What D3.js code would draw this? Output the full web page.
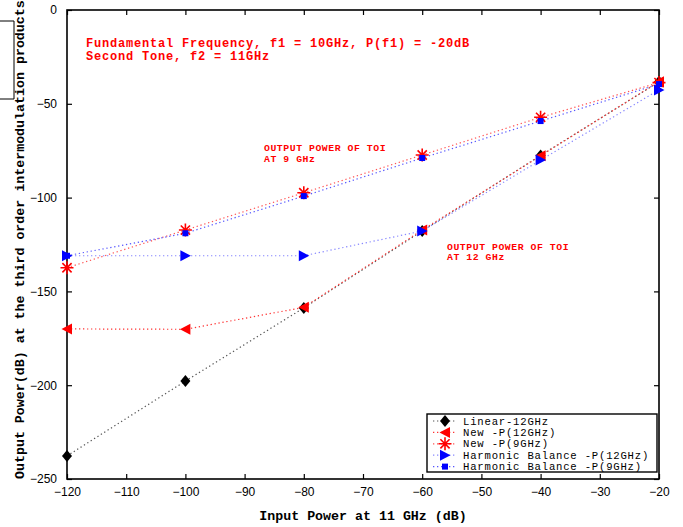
<!DOCTYPE html>
<html><head><meta charset="utf-8">
<script src="https://cdn.jsdelivr.net/npm/d3@7"></script>
<style>body{margin:0;background:#fff}svg{display:block}</style>
</head><body>
<svg id="c" width="683" height="527"></svg>
<script>
const inputPower = [-120, -100, -80, -60, -40, -20];
const linear12 = [-237.7, -197.8, -158.8, -117.8, -77.5, -38.3];
const newP12 = [-170, -170.2, -158.5, -117.3, -77.7, -38.2];
const newP9 = [-137.4, -117.3, -97.4, -77.3, -57.2, -38.7];
const hbP12 = [-131, -131, -131, -117.8, -80, -42.6];
const hbP9 = [-131, -119, -99.2, -78.9, -59.2, -39.5];
const xTicks = [-120, -110, -100, -90, -80, -70, -60, -50, -40, -30, -20];
const yTicks = [-250, -200, -150, -100, -50, 0];
const seriesNames = ["Linear-12GHz", "New -P(12GHz)", "New -P(9GHz)", "Harmonic Balance -P(12GHz)", "Harmonic Balance -P(9GHz)"];
const annotation1 = ["Fundamental Frequency, f1 = 10GHz, P(f1) = -20dB", "Second Tone, f2 = 11GHz"];
const annotation9 = ["OUTPUT POWER OF TOI", "AT 9 GHz"];
const annotation12 = ["OUTPUT POWER OF TOI", "AT 12 GHz"];
const xLabel = "Input Power at 11 GHz (dB)";
const yLabel = "Output Power(dB) at the third order intermodulation products";

const svg = d3.select("#c");
const L = 67, R = 659, T = 10, B = 479;
const x = d3.scaleLinear().domain([-120, -20]).range([L, R]);
const y = d3.scaleLinear().domain([-250, 0]).range([B, T]);
const mono = "'Liberation Mono','Courier New',monospace";
const sans = "'Liberation Sans',Arial,sans-serif";
const fmt = d => d < 0 ? "\u2212" + Math.abs(d) : String(d);

// artifact bracket at top-left
svg.append("path").attr("d", "M0,21H14V99H0").attr("fill", "none").attr("stroke", "#000").attr("stroke-width", 1);

// axes with inward ticks
const gx = svg.append("g").attr("transform", `translate(0,${B})`)
  .call(d3.axisBottom(x).tickValues(xTicks).tickSize(-5).tickPadding(8).tickFormat(fmt));
const gxt = svg.append("g").attr("transform", `translate(0,${T})`)
  .call(d3.axisTop(x).tickValues(xTicks).tickSize(-5).tickFormat(""));
const gy = svg.append("g").attr("transform", `translate(${L},0)`)
  .call(d3.axisLeft(y).tickValues(yTicks).tickSize(-5).tickPadding(10).tickFormat(fmt));
const gyr = svg.append("g").attr("transform", `translate(${R},0)`)
  .call(d3.axisRight(y).tickValues(yTicks).tickSize(-5).tickFormat(""));
[gx, gxt, gy, gyr].forEach(g => {
  g.select(".domain").remove();
  g.selectAll(".tick line").attr("stroke", "#000").attr("stroke-width", 1.2);
  g.selectAll("text").attr("font-family", sans).attr("font-size", 12).attr("fill", "#000");
});
svg.append("rect").attr("x", L).attr("y", T).attr("width", R - L).attr("height", B - T)
  .attr("fill", "none").attr("stroke", "#000").attr("stroke-width", 1.6);

// axis labels
svg.append("text").attr("x", (L + R) / 2).attr("y", 520).attr("text-anchor", "middle")
  .attr("font-family", mono).attr("font-weight", "bold").attr("font-size", 13.3).text(xLabel);
svg.append("text").attr("transform", `translate(24,${B}) rotate(-90)`).attr("text-anchor", "start")
  .attr("font-family", mono).attr("font-weight", "bold").attr("font-size", 13.3).text(yLabel);

// marker shapes
function drawMarker(g, type, color) {
  if (type === "diamond") g.append("path").attr("d", "M0,-6L5,0L0,6L-5,0Z").attr("fill", color);
  else if (type === "left") g.append("path").attr("d", "M-5.5,0L5,-5.5L5,5.5Z").attr("fill", color);
  else if (type === "right") g.append("path").attr("d", "M5.5,0L-5,-5.5L-5,5.5Z").attr("fill", color);
  else if (type === "square") g.append("rect").attr("x", -3).attr("y", -3).attr("width", 6).attr("height", 6).attr("fill", color);
  else if (type === "star") {
    g.append("path").attr("d", "M-6.5,0H6.5M0,-6.5V6.5M-4.6,-4.6L4.6,4.6M-4.6,4.6L4.6,-4.6")
      .attr("stroke", color).attr("stroke-width", 1.6).attr("fill", "none");
  }
}

const series = [
  {name: seriesNames[0], vals: linear12, color: "#000000", line: "#555", marker: "diamond"},
  {name: seriesNames[1], vals: newP12, color: "#ff0000", line: "#f33", marker: "left"},
  {name: seriesNames[2], vals: newP9, color: "#ff0000", line: "#f55", marker: "star"},
  {name: seriesNames[3], vals: hbP12, color: "#0000ff", line: "#88f", marker: "right"},
  {name: seriesNames[4], vals: hbP9, color: "#0000ff", line: "#55f", marker: "square"}
];
const lineGen = d3.line().x(d => x(d[0])).y(d => y(d[1]));
series.forEach(s => {
  const pts = inputPower.map((p, i) => [p, s.vals[i]]);
  svg.append("path").attr("d", lineGen(pts)).attr("fill", "none").attr("stroke", s.line)
    .attr("stroke-width", 1.2).attr("stroke-dasharray", "1.3,2.7");
});
series.forEach(s => {
  inputPower.forEach((p, i) => {
    const g = svg.append("g").attr("transform", `translate(${x(p)},${y(s.vals[i])})`);
    drawMarker(g, s.marker, s.color);
  });
});

// annotations
function block(lines, x0, y0, size, lh, ls) {
  lines.forEach((t, i) => svg.append("text").attr("x", x0).attr("y", y0 + i * lh)
    .attr("font-family", mono).attr("font-weight", "bold").attr("font-size", size)
    .attr("letter-spacing", ls).attr("fill", "#ff0000").text(t));
}
block(annotation1, 86, 47, 12, 13, 0.8);
block(annotation9, 264, 151, 9.8, 10.5, 0.55);
block(annotation12, 447, 249.5, 9.8, 10.5, 0.55);

// legend
const lg = svg.append("g");
lg.append("rect").attr("x", 427).attr("y", 414).attr("width", 230).attr("height", 58)
  .attr("fill", "#fff").attr("stroke", "#000").attr("stroke-width", 1.4);
series.forEach((s, i) => {
  const yy = 421 + i * 11.4;
  lg.append("line").attr("x1", 433).attr("x2", 455).attr("y1", yy).attr("y2", yy)
    .attr("stroke", s.line).attr("stroke-width", 1.2).attr("stroke-dasharray", "1.3,2.7");
  const g = lg.append("g").attr("transform", `translate(445,${yy})`);
  drawMarker(g, s.marker, s.color);
  lg.append("text").attr("x", 463).attr("y", yy + 3.5).attr("font-family", mono)
    .attr("font-size", 10.6).attr("letter-spacing", 0.8).attr("fill", "#000").text(s.name);
});
</script>
</body></html>
